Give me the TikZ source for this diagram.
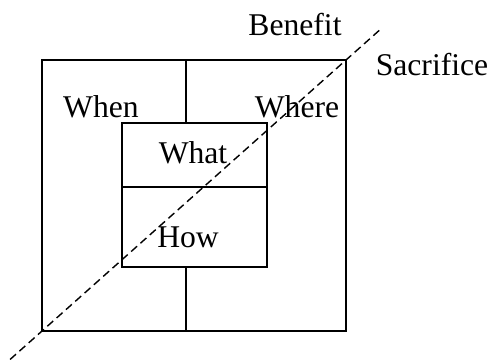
\documentclass[tikz,border=0pt]{standalone}
\usepackage{fontspec}
\setmainfont{Liberation Serif}
\usepackage{xcolor}
\usepackage{tikz}
\usetikzlibrary{calc}
\definecolor{figline}{RGB}{0,0,0}
\tikzset{
  box/.style  ={draw=figline, line width=1pt},
  cut/.style  ={draw=figline, line width=0.8pt, dash pattern=on 4.5pt off 2.6pt},
  lab/.style  ={font=\fontsize{18}{21}\selectfont, inner sep=1pt},
}
\begin{document}
\begin{tikzpicture}[scale=1]
  \useasboundingbox (0,0) rectangle (9.82,7.26);
  % outer frame and inner frame
  \coordinate (obl) at (0.84,0.64);
  \coordinate (otr) at (6.92,6.06);
  \coordinate (ibl) at (2.44,1.92);
  \coordinate (itr) at (5.34,4.80);
  \draw[box] (obl) rectangle (otr);
  \draw[box] (ibl) rectangle (itr);
  \draw[box] (2.44,3.52) -- (5.34,3.52);
  \draw[box] (3.72,6.06) -- (3.72,4.80);
  \draw[box] (3.72,1.92) -- (3.72,0.64);
  % trade-off line
  \draw[cut] ($(obl)!-0.105!(otr)$) -- ($(otr)!-0.11!(obl)$);
  \node[lab] (benefit) at (5.90,6.76) {Benefit};
  \node[lab] (sacrifice) at (8.64,5.96) {Sacrifice};
  \node[lab] (when) at (2.02,5.12) {When};
  \node[lab] (where) at (5.94,5.12) {Where};
  \node[lab] (what) at (3.86,4.20) {What};
  \node[lab] (how) at (3.76,2.52) {How};
\end{tikzpicture}
\end{document}
